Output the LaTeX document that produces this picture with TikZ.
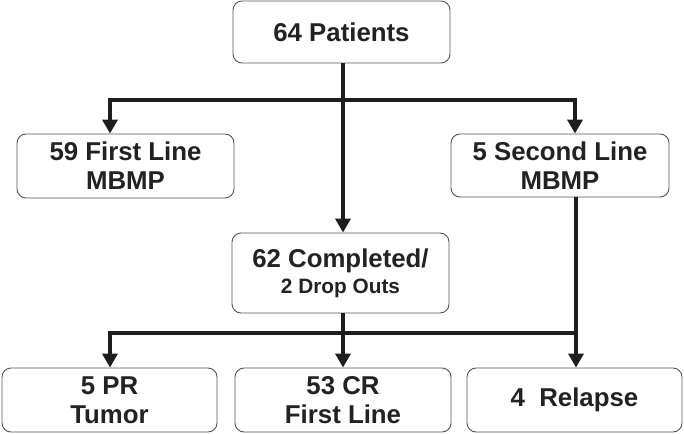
\documentclass[tikz,border=0pt]{standalone}
\usepackage{fontspec}
\setmainfont{Liberation Sans}
\usetikzlibrary{arrows.meta}
\definecolor{boxline}{HTML}{555555}
\definecolor{txt}{HTML}{222222}
\definecolor{wire}{HTML}{1E1E1E}
\begin{document}
\begin{tikzpicture}[x=1pt,y=-1pt,
  box/.style={draw=boxline,line width=0.9pt,fill=white,rounded corners=9pt,
    inner sep=0pt,align=center,text=txt,font=\fontsize{25.8}{29}\selectfont\bfseries},
  wireline/.style={draw=wire,line width=4pt},
  arr/.style={wireline,-{Triangle[width=15pt,length=14pt]}}]
\useasboundingbox (0,0) rectangle (684,433);
\node[box,minimum width=217pt,minimum height=62pt] (top) at (341.5,32) {64 Patients};
\node[box,minimum width=217pt,minimum height=64pt] (first) at (125.5,166) {59 First Line\\MBMP};
\node[box,minimum width=218pt,minimum height=63pt] (second) at (560,165.5) {5 Second Line\\MBMP};
\node[box,minimum width=217pt,minimum height=80pt] (compl) at (340.5,273)
  {62 Completed/\\[-3pt]{\fontsize{20.8}{24}\selectfont 2 Drop Outs}};
\node[box,minimum width=215pt,minimum height=64pt] (pr) at (109.5,400) {5 PR\\Tumor};
\node[box,minimum width=216pt,minimum height=64pt] (cr) at (343,400) {53 CR\\First Line};
\node[box,minimum width=215pt,minimum height=64pt] (rel) at (574.5,400) {4\ \ Relapse};
% upper junction
\coordinate (j1) at (343,100);
\coordinate (j2) at (576,333);
\draw[wireline] ([xshift=1.5pt]top.south) -- (j1);
\draw[arr] (j1) -| ([xshift=-15.5pt]first.north);
\draw[arr] (j1) -| ([xshift=15pt]second.north);
\draw[arr] (j1) -- ([xshift=2.5pt]compl.north);
% lower junction
\draw[arr] ([xshift=16pt]second.south) -- ([xshift=1.5pt]rel.north);
\draw[arr] (j2) -| ([xshift=0.5pt]pr.north);
\draw[arr] ([xshift=2.5pt]compl.south) -- (cr.north);
\end{tikzpicture}
\end{document}
